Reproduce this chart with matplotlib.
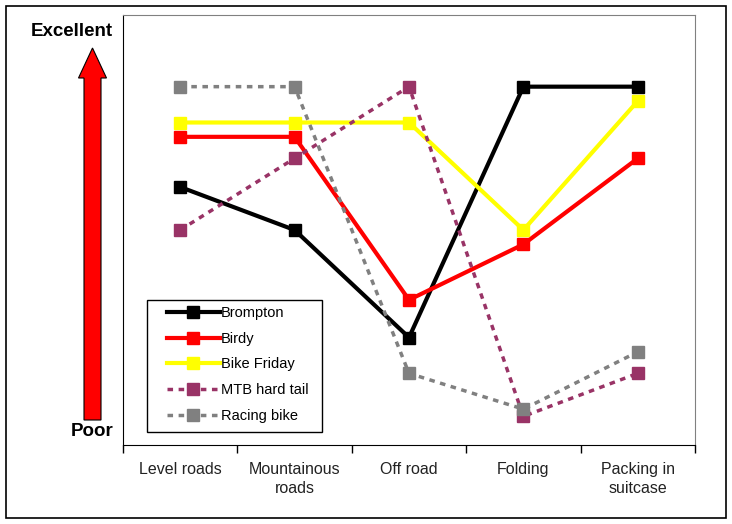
import numpy as np
import matplotlib
matplotlib.use("Agg")
from matplotlib import pyplot as plt
from matplotlib.patches import Rectangle, FancyArrow

plt.rcParams['font.family'] = ['Liberation Sans', 'DejaVu Sans']

categories = ["Level roads", "Mountainous\nroads", "Off road", "Folding", "Packing in\nsuitcase"]
brompton = [7.2, 6.0, 3.0, 10.0, 10.0]
birdy = [8.6, 8.6, 4.05, 5.6, 8.0]
bike_friday = [9.0, 9.0, 9.0, 6.0, 9.6]
mtb = [6.0, 8.0, 10.0, 0.8, 2.0]
racing = [10.0, 10.0, 2.0, 1.0, 2.6]

fig = plt.figure(figsize=(7.32, 5.24), dpi=100)
ax = fig.add_axes([123/732, 1-445/524, (695-123)/732, (445-15)/524])

x = np.arange(len(categories))
ax.plot(x, brompton, color="black", lw=3, marker="s", ms=9, label="Brompton")
ax.plot(x, birdy, color="#FF0000", lw=3, marker="s", ms=9, label="Birdy")
ax.plot(x, bike_friday, color="#FFFF00", lw=3, marker="s", ms=9, label="Bike Friday")
ax.plot(x, mtb, color="#993366", lw=2.5, ls=(0, (1.6, 1.6)), marker="s", ms=9, label="MTB hard tail")
ax.plot(x, racing, color="#808080", lw=2.5, ls=(0, (1.6, 1.6)), marker="s", ms=9, label="Racing bike")

ax.set_xlim(-0.5, len(categories)-0.5)
ax.set_ylim(0, 12)
ax.set_yticks([])
ax.set_xticks(x)
ax.set_xticklabels(categories, fontsize=11.5, color="#222222", linespacing=1.35)
ax.set_xticks(np.arange(len(categories)+1)-0.5, minor=True)
ax.tick_params(axis="x", which="major", length=0, pad=12)
ax.tick_params(axis="x", which="minor", length=6, direction="out", width=1)
for s in ["top", "right"]:
    ax.spines[s].set_color("#808080")
for s in ["left", "bottom"]:
    ax.spines[s].set_color("black")

# legend without its own frame, box drawn separately
leg = ax.legend(loc="upper left", bbox_to_anchor=(167/732, 1-306/524), bbox_transform=fig.transFigure,
                borderaxespad=0, borderpad=0, frameon=False,
                fontsize=10.5, handlelength=3.6, labelspacing=0.8, handletextpad=0.1)
fig.patches.append(Rectangle((147/732, 1-432/524), 175/732, 132/524, fill=False,
                             edgecolor="black", lw=1, transform=fig.transFigure, figure=fig, zorder=5))

# left scale annotation
fig.text(113/732, 1-31/524, "Excellent", ha="right", va="center", fontsize=13.5, fontweight="bold")
fig.text(113/732, 1-432/524, "Poor", ha="right", va="center", fontsize=13.5, fontweight="bold")
fig.patches.append(FancyArrow(92.5/732, 1-420/524, 0, (420-48)/524, width=17/732,
                              head_width=28/732, head_length=30/524, length_includes_head=True,
                              facecolor="#FF0000", edgecolor="black", lw=0.8,
                              transform=fig.transFigure, figure=fig))

# outer frame
fig.patches.append(Rectangle((6/732, 1-518/524), 720/732, 512/524, fill=False,
                             edgecolor="black", lw=1.2, transform=fig.transFigure, figure=fig))

fig.savefig("out.png", dpi=100)
